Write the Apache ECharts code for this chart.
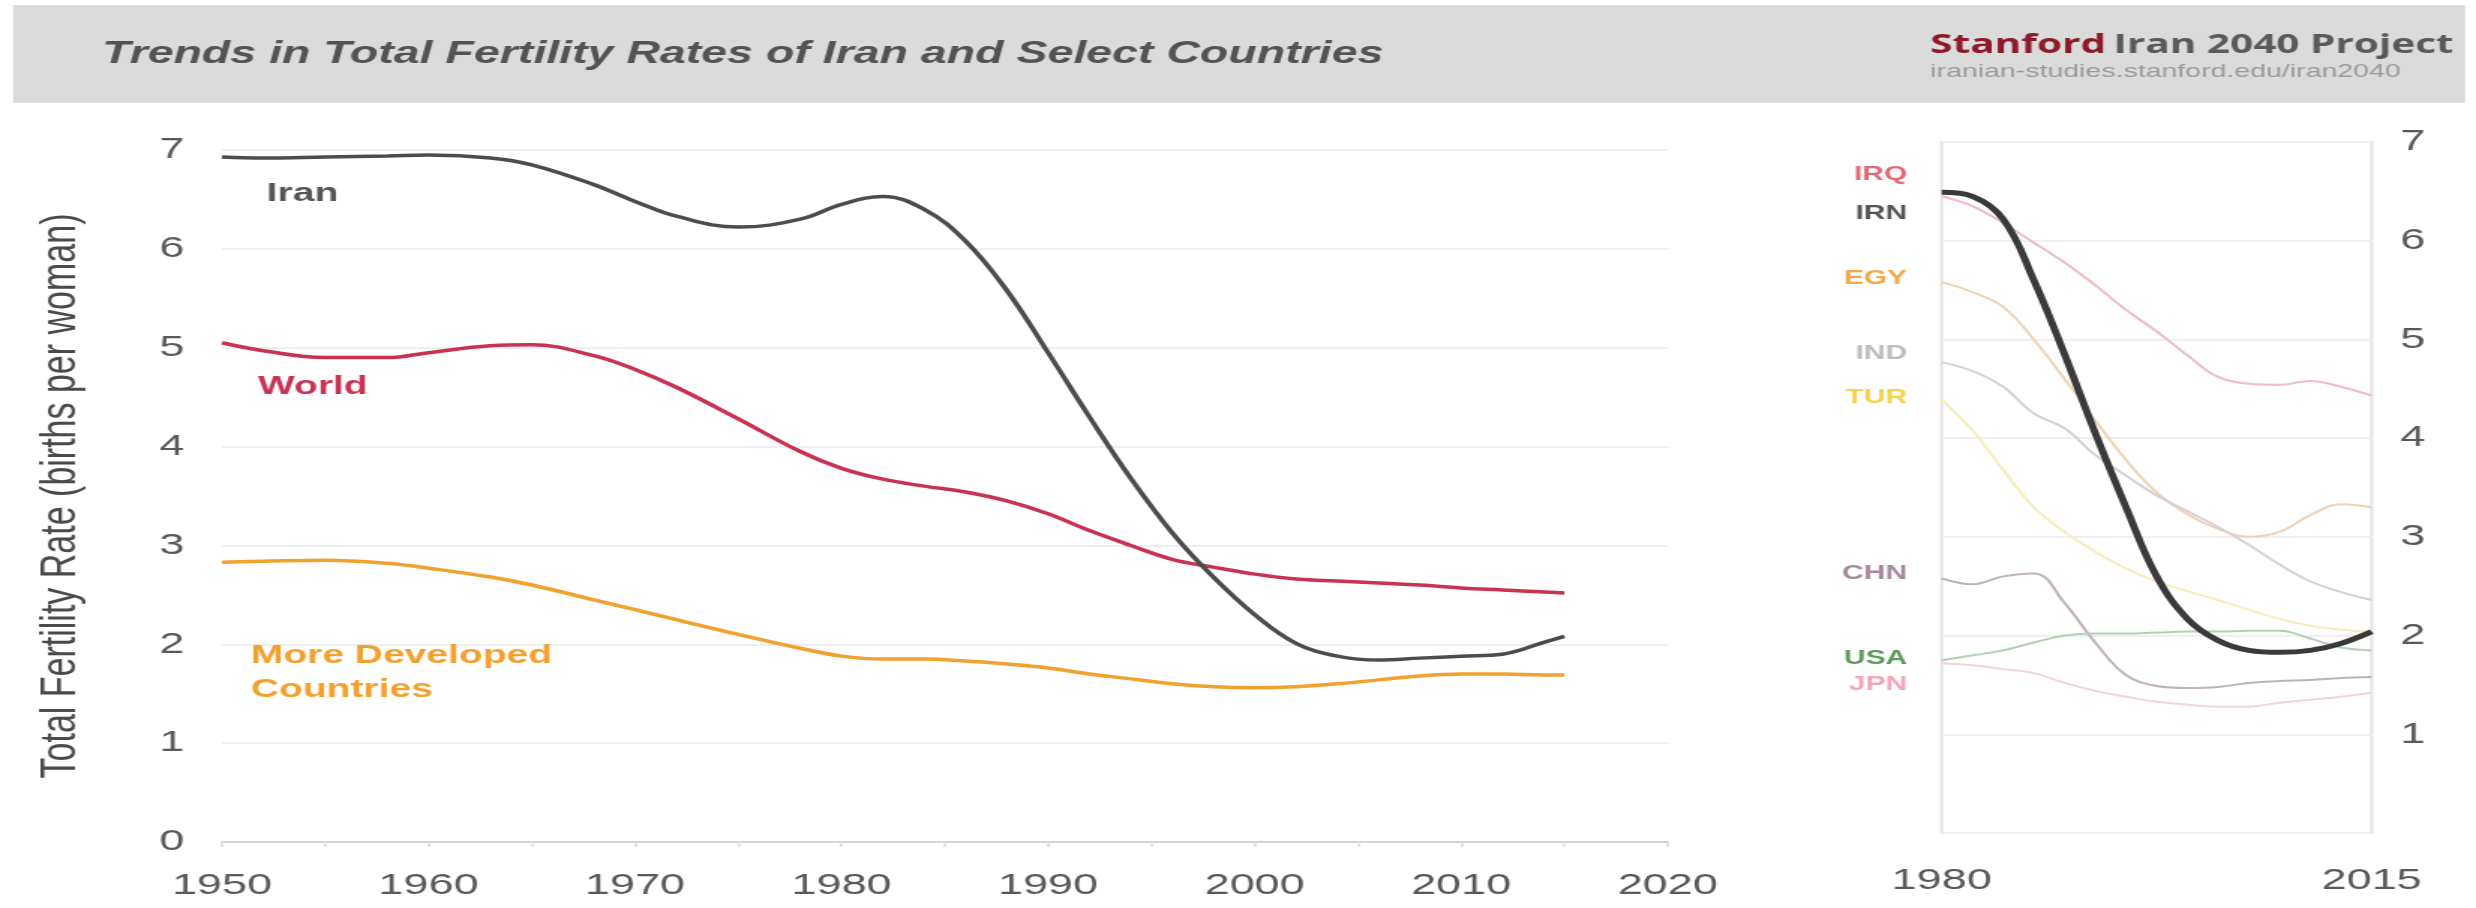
<!DOCTYPE html>
<html><head><meta charset="utf-8">
<script src="https://cdn.jsdelivr.net/npm/echarts@6/dist/echarts.min.js"></script>
<style>
html,body{margin:0;padding:0;background:#fff;overflow:hidden;width:2476px;height:908px;}
#chart{width:1651px;height:908px;transform:scaleX(1.49970);transform-origin:0 0;}
</style></head><body><div id="chart"></div>
<script>
// ---- data (left panel, 1950-2015) ----
const leftYears = [1950,1952,1955,1958,1960,1963,1965,1968,1970,1972,1975,1978,1980,1982,1984,1986,1988,1990,1992,1994,1996,1998,2000,2002,2004,2006,2008,2010,2012,2014,2015];
const iranTFR = [6.93,6.92,6.93,6.94,6.95,6.92,6.85,6.65,6.48,6.33,6.22,6.30,6.45,6.53,6.40,6.08,5.58,4.95,4.30,3.68,3.13,2.68,2.30,2.01,1.88,1.84,1.86,1.88,1.90,2.02,2.08];
const worldTFR = [5.05,4.97,4.90,4.90,4.95,5.02,5.03,4.92,4.78,4.60,4.28,3.95,3.78,3.67,3.60,3.54,3.45,3.32,3.15,3.00,2.86,2.78,2.71,2.66,2.64,2.62,2.60,2.57,2.55,2.53,2.52];
const developedTFR = [2.83,2.84,2.85,2.82,2.77,2.68,2.60,2.45,2.35,2.25,2.10,1.96,1.88,1.85,1.85,1.83,1.80,1.76,1.70,1.65,1.60,1.57,1.56,1.57,1.60,1.64,1.68,1.70,1.70,1.69,1.69];
const leftXTicks = [1950,1960,1970,1980,1990,2000,2010,2020];
const yTicks = [0,1,2,3,4,5,6,7];

// ---- data (right panel, 1980-2015) ----
const rightYears = [1980,1982.5,1985,1987.5,1990,1992.5,1995,1997.5,2000,2002.5,2005,2007.5,2010,2012.5,2015];
const irqTFR = [6.45,6.35,6.18,5.98,5.78,5.55,5.30,5.08,4.84,4.62,4.55,4.54,4.58,4.52,4.43];
const irnTFR = [6.49,6.45,6.22,5.60,4.85,4.05,3.30,2.60,2.17,1.95,1.85,1.83,1.85,1.92,2.04];
const egyTFR = [5.58,5.48,5.33,5.00,4.60,4.18,3.78,3.45,3.23,3.08,3.00,3.05,3.22,3.33,3.30];
const indTFR = [4.77,4.68,4.52,4.25,4.10,3.83,3.62,3.42,3.26,3.10,2.92,2.72,2.55,2.44,2.36];
const turTFR = [4.39,4.08,3.68,3.30,3.05,2.85,2.68,2.55,2.45,2.36,2.26,2.17,2.10,2.06,2.04];
const chnTFR = [2.58,2.52,2.60,2.63,2.33,1.93,1.60,1.49,1.47,1.48,1.52,1.54,1.55,1.57,1.58];
const usaTFR = [1.75,1.80,1.85,1.93,2.00,2.02,2.02,2.03,2.04,2.04,2.05,2.05,1.97,1.88,1.85];
const jpnTFR = [1.72,1.70,1.66,1.62,1.52,1.44,1.38,1.33,1.30,1.28,1.28,1.32,1.35,1.38,1.42];
const rightXTicks = [1980,2015];

const countryCodes = ['IRQ','IRN','EGY','IND','TUR','CHN','USA','JPN'];
const countrySeries = [irqTFR,irnTFR,egyTFR,indTFR,turTFR,chnTFR,usaTFR,jpnTFR];
const countryLabelValues = [6.67,6.28,5.62,4.86,4.41,2.63,1.77,1.50];
const countryLineColors = ['#efbcc3','#3a3a3a','#efd3b6','#d6d0d6','#f7edb8','#c0b0be','#b4d0b4','#f4d4da'];
const countryLabelColors = ['#e26a78','#555555','#f2aa48','#bdbdbd','#f4d24c','#a48a9c','#5e9c5e','#f2a6b6'];

function pairs(xs, ys){ return xs.map((x,i)=>[x, ys[i]]); }

const FONT = 'Liberation Sans, Arial, sans-serif';
const chart = echarts.init(document.getElementById('chart'), null, {renderer:'canvas'});

const rightSeries = [];
countryCodes.forEach((c,i)=>{
  if (c === 'IRN') return;
  rightSeries.push({type:'line', name:c, xAxisIndex:1, yAxisIndex:1, data:pairs(rightYears,countrySeries[i]),
    smooth:0.4, showSymbol:false, lineStyle:{color:countryLineColors[i], width:2}, z:2});
});
rightSeries.push({type:'line', name:'IRN', xAxisIndex:1, yAxisIndex:1, data:pairs(rightYears,irnTFR),
  smooth:0.4, showSymbol:false, lineStyle:{color:countryLineColors[1], width:5}, z:5});

const plain = v => String(v);

const option = {
  animation:false,
  backgroundColor:'#ffffff',
  title:[
    {text:'Trends in Total Fertility Rates of Iran and Select Countries', left:63, top:34,
     textStyle:{fontFamily:FONT, fontStyle:'italic', fontWeight:'bold', fontSize:31, color:'#535353'}},
    {text:'{a|Stanford} {b|Iran 2040 Project}', subtext:'iranian-studies.stanford.edu/iran2040',
     right:10, top:27, itemGap:3,
     textStyle:{rich:{a:{fontFamily:'Open Sans, '+FONT, fontWeight:'bold', fontSize:27, color:'#8c1a2a'},
                      b:{fontFamily:'Open Sans, '+FONT, fontWeight:'bold', fontSize:27, color:'#5a5a5a'}}},
     subtextStyle:{fontFamily:FONT, fontSize:19, color:'#9a9a9a'}}
  ],
  grid:[
    {left:148, top:150, width:964, height:692},
    {left:1294.7, top:142, width:286.7, height:691, show:true, borderColor:'#e4e4e4', borderWidth:2}
  ],
  xAxis:[
    {type:'value', gridIndex:0, min:leftXTicks[0], max:leftXTicks[leftXTicks.length-1], interval:10,
     axisLine:{show:true, lineStyle:{color:'#d4d4d4', width:2}},
     axisTick:{show:true, length:5, lineStyle:{color:'#e2e2e2', width:2}},
     minorTick:{show:true, splitNumber:2, length:5, lineStyle:{color:'#e6e6e6', width:2}},
     splitLine:{show:false},
     axisLabel:{formatter:plain, fontFamily:FONT, fontSize:30, color:'#595959', margin:29}},
    {type:'value', gridIndex:1, min:rightXTicks[0], max:rightXTicks[1],
     axisLine:{show:false}, axisTick:{show:false}, splitLine:{show:false},
     axisLabel:{customValues:rightXTicks, formatter:plain, fontFamily:FONT, fontSize:30, color:'#595959', margin:33}}
  ],
  yAxis:[
    {type:'value', gridIndex:0, min:yTicks[0], max:yTicks[yTicks.length-1], interval:1,
     name:'Total Fertility Rate (births per woman)', nameLocation:'middle', nameGap:90,
     nameTextStyle:{fontFamily:FONT, fontSize:34, color:'#4a4a4a'},
     axisLine:{show:false}, axisTick:{show:false},
     splitLine:{lineStyle:{color:'#efefef', width:2}},
     axisLabel:{fontFamily:FONT, fontSize:30, color:'#595959', margin:25}},
    {type:'value', gridIndex:1, position:'right', min:yTicks[0], max:yTicks[yTicks.length-1], interval:1,
     axisLine:{show:false}, axisTick:{show:false},
     splitLine:{lineStyle:{color:'#f0f0f0', width:2}},
     axisLabel:{showMinLabel:false, fontFamily:FONT, fontSize:30, color:'#595959', margin:19}}
  ],
  series:[
    {type:'line', name:'More Developed Countries', xAxisIndex:0, yAxisIndex:0, data:pairs(leftYears,developedTFR),
     smooth:0.4, showSymbol:false, lineStyle:{color:'#f2a12e', width:3.5}},
    {type:'line', name:'World', xAxisIndex:0, yAxisIndex:0, data:pairs(leftYears,worldTFR),
     smooth:0.4, showSymbol:false, lineStyle:{color:'#c93351', width:3.5}},
    {type:'line', name:'Iran', xAxisIndex:0, yAxisIndex:0, data:pairs(leftYears,iranTFR),
     smooth:0.4, showSymbol:false, lineStyle:{color:'#4c4c4c', width:3.5}, z:4}
  ].concat(rightSeries)
};
chart.setOption(option);

// header band + in-chart annotations, positioned through the axes
const graphics = [
  {type:'rect', z:-10, shape:{x:8.7, y:5, width:1635, height:98}, style:{fill:'#dbdbdb'}}
];
function lp(x,y){ return chart.convertToPixel({gridIndex:0},[x,y]); }
function rp(x,y){ return chart.convertToPixel({gridIndex:1},[x,y]); }
const a1 = lp(1953.9, 6.56);
graphics.push({type:'text', x:a1[0], y:a1[1], style:{text:'Iran', fill:'#555555', font:'bold 26px '+FONT, textAlign:'center', textVerticalAlign:'middle'}});
const a2 = lp(1954.4, 4.60);
graphics.push({type:'text', x:a2[0], y:a2[1], style:{text:'World', fill:'#c93351', font:'bold 26px '+FONT, textAlign:'center', textVerticalAlign:'middle'}});
const a3 = lp(1951.4, 2.06);
graphics.push({type:'text', x:a3[0], y:a3[1], style:{text:'More Developed\nCountries', fill:'#f2a12e', font:'bold 26px '+FONT, lineHeight:34, textAlign:'left', textVerticalAlign:'top'}, position:[0,-17]});
const rightLabelX = rp(1980, 0)[0] - 23;
countryCodes.forEach((c,i)=>{
  const p = rp(1980, countryLabelValues[i]);
  graphics.push({type:'text', x:rightLabelX, y:p[1], style:{text:c, fill:countryLabelColors[i], font:'bold 20px '+FONT, textAlign:'right', textVerticalAlign:'middle'}});
});
chart.setOption({graphic:graphics});
</script></body></html>
